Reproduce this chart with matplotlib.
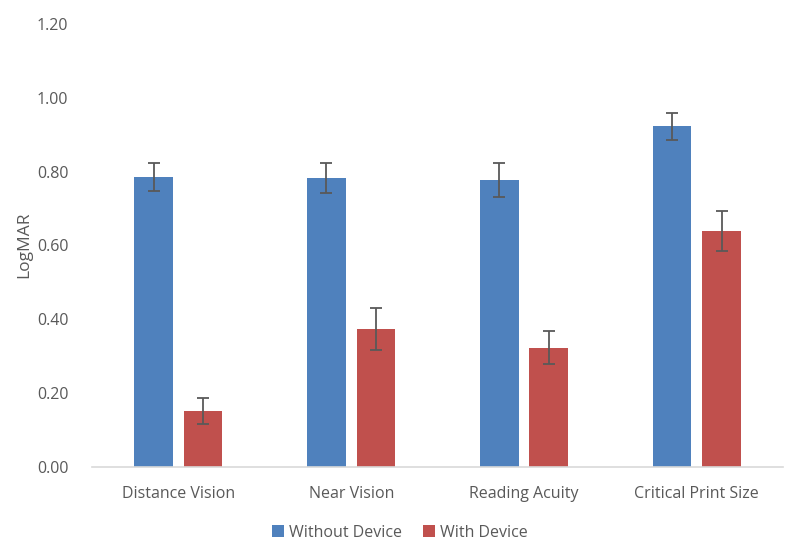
import matplotlib.pyplot as plt
import numpy as np

plt.rcParams['font.family'] = ['Open Sans', 'DejaVu Sans']

# values (LogMAR)
categories = ['Distance Vision', 'Near Vision', 'Reading Acuity', 'Critical Print Size']
without_device = [0.785, 0.783, 0.777, 0.923]
without_err = [0.038, 0.040, 0.046, 0.037]
with_device = [0.151, 0.373, 0.323, 0.639]
with_err = [0.034, 0.056, 0.045, 0.054]
yticks = [0.0, 0.2, 0.4, 0.6, 0.8, 1.0, 1.2]

blue = '#4F81BD'
red = '#C0504D'
grey = '#595959'

fig = plt.figure(figsize=(8, 5.56), dpi=100)
ax = fig.add_axes([0.115, 0.1606, 0.864, 0.7962])

x = np.arange(len(categories))
w = 0.224
off = 0.143
ekw = dict(ecolor=grey, elinewidth=1.3, capsize=4.5, capthick=1.3)

ax.bar(x - off, without_device, w, color=blue, yerr=without_err,
       error_kw=ekw, label='Without Device')
ax.bar(x + off, with_device, w, color=red, yerr=with_err,
       error_kw=ekw, label='With Device')

ax.set_xlim(-0.5, len(categories) - 0.5)
ax.set_ylim(0, 1.2)
ax.set_yticks(yticks)
ax.set_yticklabels(['%.2f' % t for t in yticks])
ax.set_xticks(x)
ax.set_xticklabels(categories)
ax.tick_params(axis='both', length=0, labelsize=11.5, colors=grey)
ax.tick_params(axis='y', pad=17)
ax.tick_params(axis='x', pad=14)

for s in ['top', 'right', 'left']:
    ax.spines[s].set_visible(False)
ax.spines['bottom'].set_color('#D9D9D9')
ax.spines['bottom'].set_linewidth(1.2)

fig.text(0.03, 0.559, 'LogMAR', rotation=90, ha='center', va='center',
         fontsize=12.5, color=grey)

fig.legend(loc='center', bbox_to_anchor=(0.5, 0.042), ncol=2, frameon=False,
           fontsize=11.5, labelcolor=grey, handlelength=0.75, handleheight=0.75,
           handletextpad=0.3, columnspacing=1.3)

fig.savefig('out.png', dpi=100)
